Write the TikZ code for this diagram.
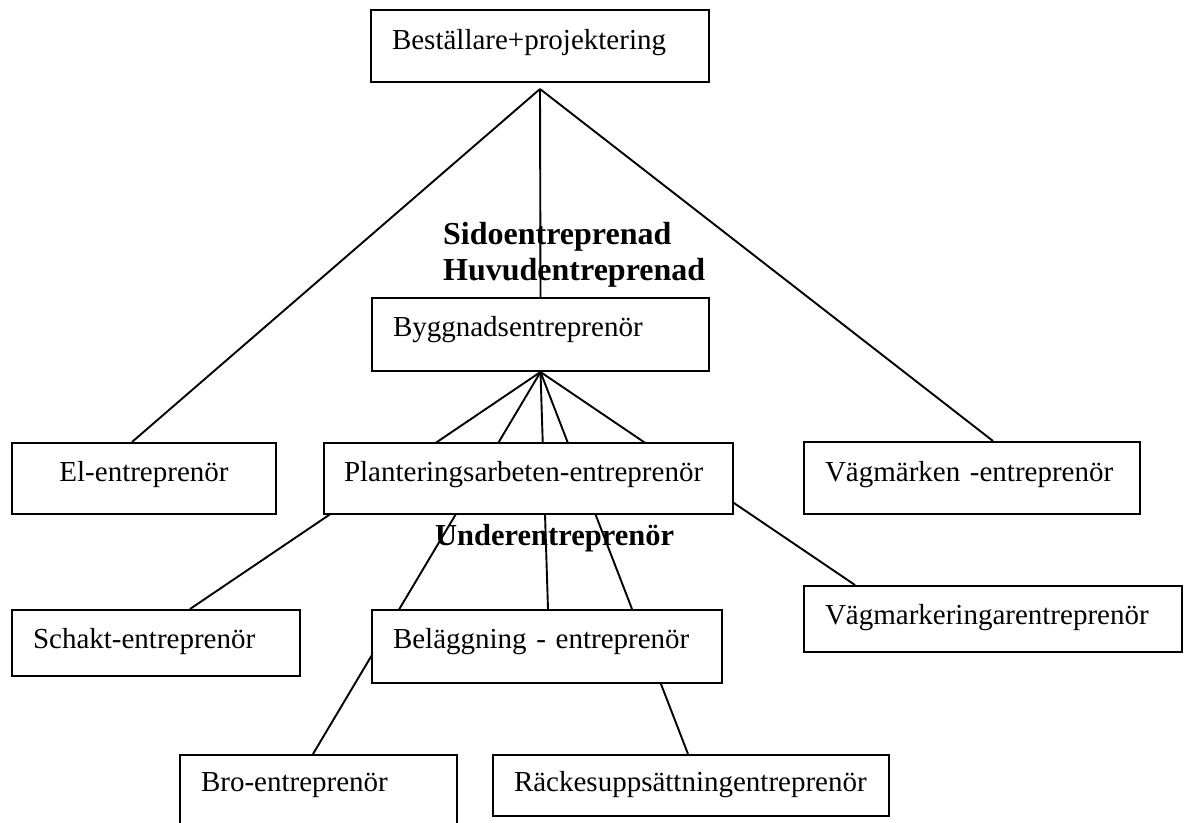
\documentclass[tikz,border=0pt]{standalone}
\usepackage{fontspec}
\setmainfont{Liberation Serif}
\usetikzlibrary{calc}
\pgfdeclarelayer{labels}
\pgfdeclarelayer{wires}
\pgfsetlayers{labels,wires,main}
\newcommand\boxfont{\fontsize{29bp}{36bp}\selectfont}

\begin{document}
\begin{tikzpicture}[x=1bp,y=-1bp,
  box/.style={draw, line width=2bp, fill=white, anchor=north west,
    inner xsep=21bp, inner ysep=0pt, text height=38bp, align=left, font=\boxfont},
  tag/.style={anchor=base west, inner sep=0pt, font=\fontsize{32bp}{36bp}\selectfont\bfseries},
  wire/.style={line width=1.9bp}]
\useasboundingbox (0,0) rectangle (1186,823);
\clip (0,0) rectangle (1186,823);

% contractor boxes (white fill hides the wires running behind them)
\node[box, text height=39bp, text width=296bp, text depth=33bp] (best) at (370,9) {Beställare+projektering};
\node[box, text width=295bp, text depth=35bp] (bygg) at (371,297) {Byggnadsentreprenör};
\node[box, align=center, text width=222bp, text depth=33bp] (el) at (11,442) {El-entreprenör};
\node[box, inner xsep=20bp, text width=369bp, text depth=33bp] (plant) at (323,442) {Planteringsarbeten-entreprenör};
\node[box, text height=39bp, text width=294bp, text depth=33bp] (vmark) at (803,441) {Vägmärken -entreprenör};
\node[box, text width=246bp, text depth=28bp] (schakt) at (11,609) {Schakt-entreprenör};
\node[box, text width=308bp, text depth=35bp] (belagg) at (371,609) {Beläggning - entreprenör};
\node[box, text width=336bp, text depth=28bp] (vmkring) at (803,585) {Vägmarkeringarentreprenör};
\node[box, text height=36bp, text width=235bp, text depth=50bp] (bro) at (179,754) {Bro-entreprenör};
\node[box, text height=36bp, text width=354bp, text depth=25bp] (racke) at (492,754) {Räckesuppsättningentreprenör};

% contract-level headings
\begin{pgfonlayer}{labels}
\node[tag] (side) at (443,244) {Sidoentreprenad};
\node[tag] (huvud) at (443,280) {Huvudentreprenad};
\node[tag, font=\fontsize{30.5bp}{36bp}\selectfont\bfseries] (under) at (435,545) {Underentreprenör};
\end{pgfonlayer}

% contract relations
\begin{pgfonlayer}{wires}
\coordinate (bapex) at ($(best.south)+(0,6)$);
\draw[wire] (bapex) -- ($(el.north west)+(121,0)$);
\draw[wire] (bapex) -- (bygg.north);
\draw[wire] (bapex) -- ($(vmark.north west)+(190,0)$);
\draw[wire] (bygg.south) -- ($(schakt.north west)+(179,0)$);
\draw[wire] (bygg.south) -- ($(bro.north west)+(134,0)$);
\draw[wire] (bygg.south) -- ($(belagg.north west)+(177,0)$);
\draw[wire] (bygg.south) -- ($(racke.north west)+(196,0)$);
\draw[wire] (bygg.south) -- ($(vmkring.north west)+(52,0)$);
\end{pgfonlayer}
\end{tikzpicture}
\end{document}
